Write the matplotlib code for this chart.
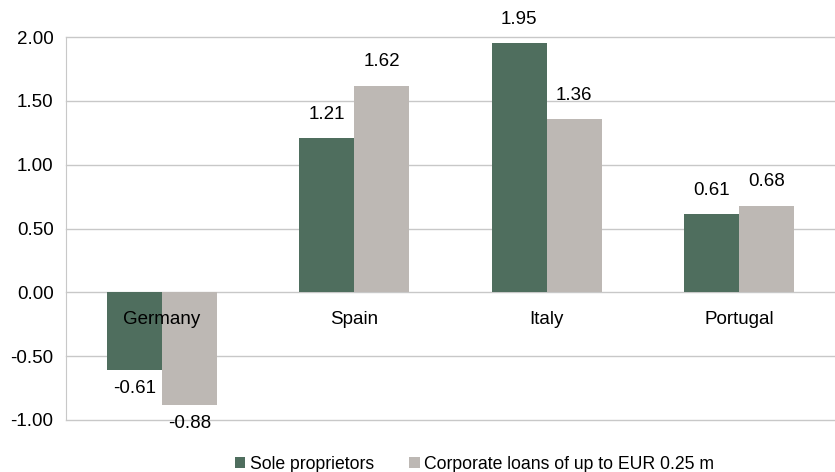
import matplotlib.pyplot as plt
import numpy as np

plt.rcParams['font.family'] = ['Liberation Sans', 'DejaVu Sans']

# data
countries = ['Germany', 'Spain', 'Italy', 'Portugal']
sole_proprietors = [-0.61, 1.21, 1.95, 0.61]
corporate_loans = [-0.88, 1.62, 1.36, 0.68]
series_names = ['Sole proprietors', 'Corporate loans of up to EUR 0.25 m']

green = '#4f6e5e'
grey = '#bdb8b4'
grid_col = '#c8c8c8'
fs = 13.5

fig = plt.figure(figsize=(8.35, 4.72), dpi=100)
ax = fig.add_axes([66 / 835, 1 - 420 / 472, 769 / 835, 383 / 472])

x = np.arange(len(countries))
w = 0.286
b1 = ax.bar(x - w / 2, sole_proprietors, w, color=green, label=series_names[0], zorder=3)
b2 = ax.bar(x + w / 2, corporate_loans, w, color=grey, label=series_names[1], zorder=3)

ax.set_xlim(-0.5, len(countries) - 0.5)
ax.set_ylim(-1.0, 2.0)
ax.set_yticks(np.arange(-1.0, 2.01, 0.5))
ax.set_yticklabels([f'{v:.2f}' for v in np.arange(-1.0, 2.01, 0.5)], fontsize=fs)
ax.set_xticks([])
ax.tick_params(axis='y', length=0, pad=9)
ax.yaxis.grid(True, color=grid_col, linewidth=1, zorder=0)
for gl in ax.get_ygridlines():
    gl.set_clip_on(False)

for side in ['top', 'right', 'bottom']:
    ax.spines[side].set_visible(False)
ax.spines['left'].set_color(grid_col)

# category labels just below zero line
for i, name in enumerate(countries):
    ax.text(i, -0.21, name, ha='center', va='center', fontsize=fs, zorder=4)

# value labels
for bars in (b1, b2):
    for rect in bars:
        h = rect.get_height()
        cx = rect.get_x() + rect.get_width() / 2
        if h >= 0:
            ax.text(cx, h + 0.185, f'{h:.2f}', ha='center', va='center', fontsize=fs)
        else:
            ax.text(cx, h - 0.145, f'{h:.2f}', ha='center', va='center', fontsize=fs)

fig.legend(loc='lower center', bbox_to_anchor=(0.568, -0.035), ncol=2, frameon=False,
           fontsize=12.7, handlelength=0.6, handleheight=0.6, handletextpad=0.25,
           columnspacing=2.0)

fig.savefig('out.png', dpi=100)
